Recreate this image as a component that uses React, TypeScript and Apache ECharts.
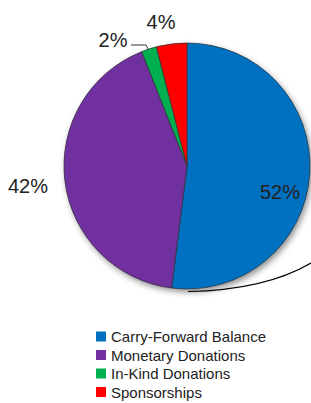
import React, { useEffect, useRef } from "react";
import * as echarts from "echarts";

const categories = ["Carry-Forward Balance", "Monetary Donations", "In-Kind Donations", "Sponsorships"];
const values = [52, 42, 2, 4];
const colors = ["#0070C0", "#7030A0", "#00B050", "#FF0000"];

const labelSpots: Record<number, [number, number]> = {
  0: [280, 192],
  1: [28, 186],
  2: [113, 40],
  3: [161, 22],
};

export default function App() {
  const ref = useRef<HTMLDivElement>(null);
  useEffect(() => {
    document.body.style.margin = "0";
    const chart = echarts.init(ref.current!, null, { renderer: "svg" });
    const data = categories.map((name, i) => ({
      name,
      value: values[i],
      itemStyle: { color: colors[i] },
      label: { position: i === 2 ? "outside" : "inside" },
      labelLine: { show: i === 2 },
    }));
    chart.setOption({
      animation: false,
      legend: {
        orient: "vertical",
        left: 96,
        top: 329,
        height: 80,
        padding: 0,
        itemWidth: 10,
        itemHeight: 10,
        itemGap: 3.5,
        icon: "rect",
        textStyle: { fontFamily: "Liberation Sans", fontSize: 15, color: "#222" },
        data: categories,
      },
      graphic: [
        {
          type: "bezierCurve",
          shape: { x1: 188, y1: 291.5, x2: 311, y2: 263, cpx1: 265, cpy1: 290 },
          style: { stroke: "#000", lineWidth: 1.2, fill: null },
        },
      ],
      series: [
        {
          type: "pie",
          name: "shadow",
          silent: true,
          center: [187, 166],
          radius: 123,
          startAngle: 90,
          z: 1,
          label: { show: false },
          labelLine: { show: false },
          itemStyle: {
            borderWidth: 0,
            shadowBlur: 6,
            shadowOffsetX: 2,
            shadowOffsetY: 3,
            shadowColor: "rgba(0,0,0,0.45)",
          },
          data: categories.map((name, i) => ({ name, value: values[i], itemStyle: { color: colors[i] } })),
        },
        {
          type: "pie",
          name: "Funding",
          center: [187, 166],
          radius: 123,
          startAngle: 90,
          z: 2,
          avoidLabelOverlap: false,
          itemStyle: { borderColor: "#333", borderWidth: 0.7 },
          label: {
            formatter: "{c}%",
            fontFamily: "Liberation Sans",
            fontSize: 20,
            color: "#222",
          },
          labelLine: { lineStyle: { color: "#333", width: 1 } },
          labelLayout: (p: any) => {
            const s = labelSpots[p.dataIndex];
            const out: any = { x: s[0], y: s[1], align: "center", verticalAlign: "middle" };
            if (p.dataIndex === 2) {
              out.labelLinePoints = [
                [131, 45],
                [146, 45],
                [148, 49],
              ];
            }
            return out;
          },
          data,
        },
      ],
    });
    return () => chart.dispose();
  }, []);
  return <div ref={ref} style={{ width: 311, height: 403 }} />;
}
